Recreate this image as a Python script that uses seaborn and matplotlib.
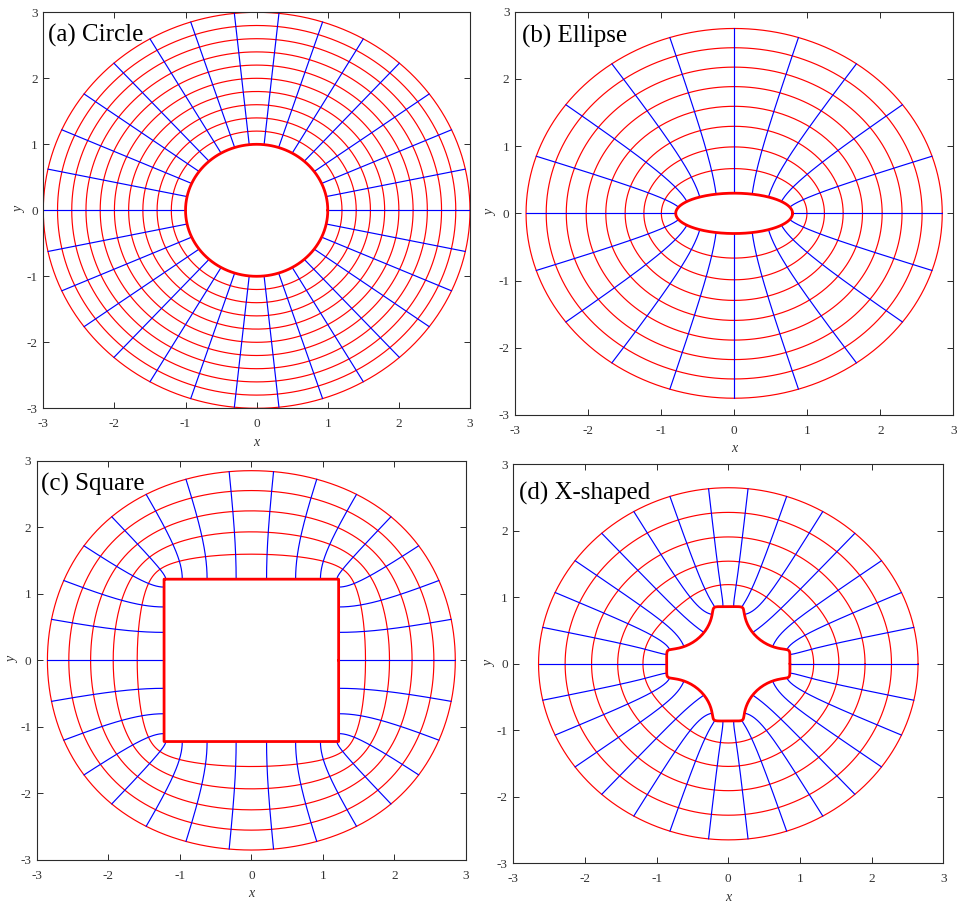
import numpy as np
import pandas as pd
import matplotlib
matplotlib.use("Agg")
import matplotlib.pyplot as plt
import seaborn as sns

# ---- grid parameters -------------------------------------------------------
# (a) circle: rings |w| = rho, rays arg w = theta
CIRCLE_RHO = [1.0, 1.2, 1.4, 1.6, 1.8, 2.0, 2.2, 2.4, 2.6, 2.8, 3.0]
CIRCLE_RAYS_DEG = [0, 12, 24, 36, 48, 60, 72, 84, 96, 108, 120, 132, 144, 156, 168,
                   180, 192, 204, 216, 228, 240, 252, 264, 276, 288, 300, 312, 324, 336, 348]

# (b) ellipse: Joukowski map z = c (w + m / w)
ELLIPSE_C = 0.55
ELLIPSE_M = 0.4545
ELLIPSE_RHO = [1.0, 1.511, 2.022, 2.534, 3.045, 3.556, 4.067, 4.579, 5.09]
ELLIPSE_RAYS_DEG = [0, 18, 36, 54, 72, 90, 108, 126, 144, 162,
                    180, 198, 216, 234, 252, 270, 288, 306, 324, 342]

# (c) square: Schwarz-Christoffel map z = C * int sqrt(1 + w^-4) dw (series form)
SQUARE_SCALE = 1.44
SQUARE_TERMS = 40
SQUARE_RHO = [1.0, 1.2, 1.4, 1.6, 1.8, 2.0]
SQUARE_RAYS_DEG = CIRCLE_RAYS_DEG

# (d) X-shaped: z = C (w + a1 w^-3 + a2 w^-7 + a3 w^-11)
CROSS_SCALE = 0.78
CROSS_COEFFS = [0.175, -0.0859, 0.0135]
CROSS_RHO = [1.0, 1.478, 1.956, 2.434, 2.912, 3.39]
CROSS_RAYS_DEG = CIRCLE_RAYS_DEG

PANEL_LABELS = ["(a) Circle", "(b) Ellipse", "(c) Square", "(d) X-shaped"]
TICKS = [-3, -2, -1, 0, 1, 2, 3]


# ---- conformal maps --------------------------------------------------------
def circle_map(w):
    return w


def ellipse_map(w):
    return ELLIPSE_C * (w + ELLIPSE_M / w)


def _sqrt_series(n):
    # binomial coefficients of sqrt(1 + t)
    b = [1.0]
    for k in range(1, n + 1):
        b.append(b[-1] * (0.5 - (k - 1)) / k)
    return b


_SQ_B = _sqrt_series(SQUARE_TERMS)


def square_map(w):
    z = np.array(w, dtype=complex)
    for k in range(1, SQUARE_TERMS + 1):
        z = z + _SQ_B[k] / (1 - 4 * k) * w ** (1 - 4 * k)
    return SQUARE_SCALE * z


def cross_map(w):
    z = np.array(w, dtype=complex)
    for k, a in enumerate(CROSS_COEFFS, start=1):
        z = z + a * w ** (-(4 * k - 1))
    return CROSS_SCALE * z


def grid_frame(fmap, rhos, rays_deg, n_ring=361, n_ray=160):
    rows = []
    theta = np.linspace(0, 2 * np.pi, n_ring)
    for i, r in enumerate(rhos):
        z = fmap(r * np.exp(1j * theta))
        kind = "boundary" if i == 0 else "ring"
        rows.append(pd.DataFrame({"x": z.real, "y": z.imag,
                                  "curve": f"ring{i}", "kind": kind}))
    rr = np.linspace(rhos[0], rhos[-1], n_ray)
    for j, d in enumerate(rays_deg):
        z = fmap(rr * np.exp(1j * np.deg2rad(d)))
        rows.append(pd.DataFrame({"x": z.real, "y": z.imag,
                                  "curve": f"ray{j}", "kind": "ray"}))
    return pd.concat(rows, ignore_index=True)


panels = [
    grid_frame(circle_map, CIRCLE_RHO, CIRCLE_RAYS_DEG),
    grid_frame(ellipse_map, ELLIPSE_RHO, ELLIPSE_RAYS_DEG),
    grid_frame(square_map, SQUARE_RHO, SQUARE_RAYS_DEG),
    grid_frame(cross_map, CROSS_RHO, CROSS_RAYS_DEG),
]

# ---- figure ----------------------------------------------------------------
sns.set_theme(style="ticks")
plt.rcParams["font.family"] = ["Liberation Serif", "DejaVu Serif"]
plt.rcParams["axes.unicode_minus"] = False

W, H = 957, 906
fig = plt.figure(figsize=(W / 100, H / 100), dpi=100)
fig.patch.set_facecolor("white")

# axes boxes in pixels: left, top, right, bottom
boxes = [(43.3, 12.3, 470.0, 408.3),
         (515.0, 11.7, 953.3, 415.0),
         (36.7, 460.7, 466.0, 860.0),
         (513.3, 464.3, 943.3, 863.3)]
label_offsets = [(5, 29), (6.5, 30.5), (4, 30), (6, 35)]

axis_col = "#2b2b2b"
for df, (l, t, r, b), lab, (dx, dy) in zip(panels, boxes, PANEL_LABELS, label_offsets):
    ax = fig.add_axes([l / W, 1 - b / H, (r - l) / W, (b - t) / H])
    ax.set_facecolor("white")

    sns.lineplot(data=df[df.kind == "ring"], x="x", y="y", units="curve",
                 estimator=None, sort=False, color="#ff0000", linewidth=0.85,
                 ax=ax, legend=False)
    sns.lineplot(data=df[df.kind == "ray"], x="x", y="y", units="curve",
                 estimator=None, sort=False, color="#0000ff", linewidth=0.85,
                 ax=ax, legend=False)
    sns.lineplot(data=df[df.kind == "boundary"], x="x", y="y", units="curve",
                 estimator=None, sort=False, color="#ff0000", linewidth=2.0,
                 ax=ax, legend=False)

    ax.set_xlim(-3, 3)
    ax.set_ylim(-3, 3)
    ax.set_xticks(TICKS)
    ax.set_yticks(TICKS)
    ax.set_xticklabels([str(v) for v in TICKS])
    ax.set_yticklabels([str(v) for v in TICKS])
    ax.tick_params(axis="both", direction="in", top=True, right=True,
                   length=4, width=0.7, color=axis_col, labelcolor="#333333",
                   labelsize=9.5)
    ax.tick_params(axis="x", pad=7)
    ax.tick_params(axis="y", pad=4)
    for sp in ax.spines.values():
        sp.set_visible(True)
        sp.set_color(axis_col)
        sp.set_linewidth(0.8)
    ax.set_xlabel("x", style="italic", fontsize=10, color="#333333", labelpad=4)
    ax.set_ylabel("y", style="italic", fontsize=10, color="#333333", labelpad=0.5)
    ax.grid(False)

    ax.annotate(lab, xy=(0, 1), xycoords="axes fraction",
                xytext=(dx, -dy), textcoords="offset pixels",
                ha="left", va="baseline", fontsize=18, color="black")

fig.savefig("out.png", dpi=100, facecolor="white")
